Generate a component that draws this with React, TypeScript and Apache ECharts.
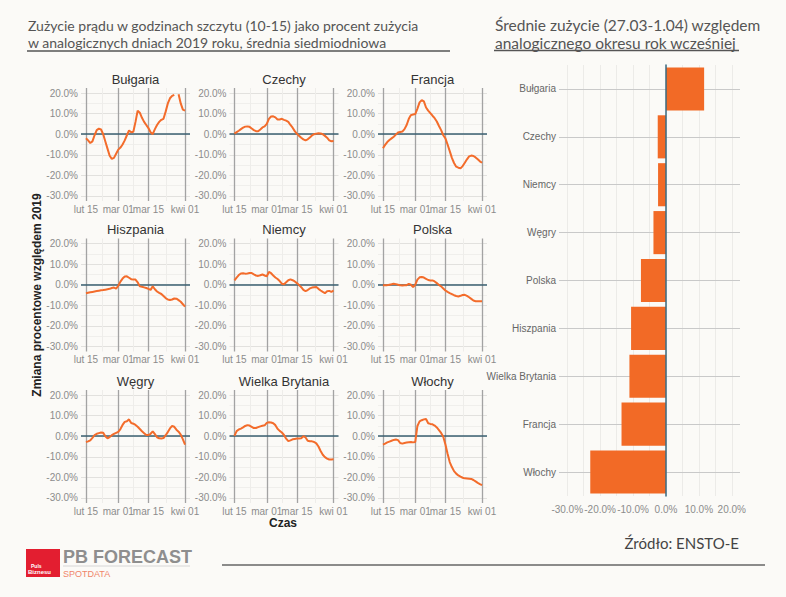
import React, { useRef, useEffect } from "react";
import * as echarts from "echarts";

// x axis: days counted from lut 15 (2020 is a leap year)
const days = Array.from({ length: 47 }, (_, i) => i);
const xTickDays = [0, 15, 29, 46];
const xTickLabels = ["lut 15", "mar 01", "mar 15", "kwi 01"];
const xMinorDays = [7.5, 22, 37.5];
const yTicks = [-30, -20, -10, 0, 10, 20];
const yMinorTicks = [-25, -15, -5, 5, 15];

// 7-day average, % vs 2019 (values above 20% fall outside the scale)
const bulgaria = [
  -2, -3, -4.3, -3.5, -0.5, 2, 2.7, 2.3, 0, -3.5, -7, -10.5, -12, -11.5, -9.5, -7.5, -6.5, -5, -3, -0.5,
  1.8, 1, 1.2, 6, 11.5, 10.5, 8, 6, 4.5, 3, 1, 0, 2.5, 4.5, 6, 7, 7.5, 11, 15, 17.5, 18.7, 19.2, null,
  19.5, 15, 12, 11.5,
];
const czechy = [
  0.3, 1, 1.7, 2.5, 3.2, 3.7, 3.8, 3.6, 2.8, 2, 1.5, 1.4, 2.3, 3.3, 3.8, 5, 7.5, 8.6, 8.7, 8.2, 7.2, 7.2,
  7.5, 7, 6.6, 6, 4.5, 3.2, 1.5, 0.2, -0.8, -1.7, -2.5, -3, -2.5, -1.6, -0.6, 0, 0.3, 0.5, 0.4, 0, -0.8,
  -1.7, -3, -3.4, -3.3,
];
const francja = [
  -6.8, -5.2, -3.8, -2.8, -2, -1.2, -0.2, 0.8, 1.1, 1.3, 2.5, 4.5, 7.5, 9.3, 9.6, 9.8, 12.5, 15.5, 16.6,
  16, 13, 11.5, 10.3, 9, 7.8, 6.2, 4, 2, -0.5, -2, -5, -8.2, -11.5, -14, -15.8, -16.3, -16.6, -15.5,
  -13.9, -12.2, -10.8, -10.4, -10.6, -11.3, -12.2, -13.2, -13.9,
];
const hiszpania = [
  -4.1, -3.9, -3.7, -3.5, -3.3, -3.1, -2.9, -2.7, -2.6, -2.4, -2.2, -2, -1.6, -1.4, -1.9, -0.5, 1.5, 3,
  4, 4.1, 3.4, 2.7, 2.6, 2.5, 1.2, -0.8, -1, -1.3, -1.6, -2, -2.5, -0.8, -2.2, -3.3, -4, -4.5, -5.5,
  -6.5, -7.2, -7.4, -7.2, -6.7, -6.8, -7.5, -8.3, -9.5, -10.7,
];
const niemcy = [
  2.1, 3.5, 4.7, 5.5, 5.6, 5.4, 5.5, 5.7, 5.7, 5, 4.5, 4.3, 4.6, 5, 4.5, 4.1, 6.2, 5.6, 4.5, 3.5, 2.8,
  1.8, 0.5, 0.2, 1.2, 2.2, 2.6, 2.2, 1.6, 0.8, -0.2, -1.2, -2.5, -3.1, -2.6, -1.8, -1.4, -1.2, -1.1, -2,
  -2.8, -3.5, -4.1, -3.2, -3, -3.5, -2.8,
];
const polska = [
  -0.3, -0.3, -0.2, 0, 0.2, 0.5, 0.3, 0, -0.3, -0.4, -0.3, -0.2, 0.4, 0, -1.2, 0, 2.5, 3.6, 3.8, 3.5,
  2.9, 2.3, 2.1, 2.1, 1.6, 0.8, -0.1, -0.8, -1.8, -2.8, -3.5, -4.1, -4.6, -5.1, -5.5, -5.7, -5.4, -5,
  -4.9, -5.4, -6.1, -6.9, -7.7, -8, -8, -8, -8,
];
const wegry = [
  -2.8, -2.5, -2, -0.8, 0.6, 1.2, 1.5, 1.8, 1.7, 0, -1, -0.4, 0.5, 1.1, 1.6, 2.1, 3.5, 5.5, 7, 7.3, 8.2,
  6.4, 6.1, 5.5, 4.6, 3.5, 2.4, 1.5, 0.6, 0.6, 1.2, 2.4, 1, -0.5, -1, -1.1, -0.9, 0.5, 2, 3.8, 5, 4.6,
  3.2, 2.2, 0.8, -1.5, -4.1,
];
const wielkaBrytania = [
  0.2, 2.5, 3.3, 3.7, 4.3, 5, 5.4, 5.2, 4.6, 4, 4, 4.4, 4.8, 5.1, 5.3, 6.5, 6.8, 6.7, 6.3, 5.4, 3.6,
  2.6, 1.8, 0.6, -1.2, -2.4, -2, -1.5, -1.3, -1.1, -1.1, -1, 0, -0.6, -2.2, -2.4, -2.5, -2.8, -3.5, -5,
  -7.2, -9, -10.2, -10.9, -11.3, -11.3, -11.2,
];
const wlochy = [
  -4.1, -3.6, -3, -2.6, -2.2, -1.8, -1.6, -1.9, -3.3, -3.6, -3.3, -3.1, -2.9, -2.8, -3, -2.8, 5, 7.2,
  7.8, 8.2, 8.4, 6.3, 6, 5.8, 5.2, 4.3, 3, 1.6, -0.3, -4, -8.5, -12.6, -15, -17, -18.2, -19.1, -19.7,
  -20.2, -20.5, -20.6, -20.7, -20.8, -21.3, -22, -22.7, -23.3, -23.8,
];

const panelNames = [
  "Bułgaria", "Czechy", "Francja",
  "Hiszpania", "Niemcy", "Polska",
  "Węgry", "Wielka Brytania", "Włochy",
];
const panelValues = [bulgaria, czechy, francja, hiszpania, niemcy, polska, wegry, wielkaBrytania, wlochy];

// average 27.03-1.04 vs the same period a year earlier, %
const barCountries = [
  "Bułgaria", "Czechy", "Niemcy", "Węgry", "Polska", "Hiszpania", "Wielka Brytania", "Francja", "Włochy",
];
const barValues = [11.6, -2.5, -2.4, -3.8, -7.6, -10.6, -11.1, -13.5, -23.0];
const barGridX = [-30, -25, -20, -15, -10, -5, 0, 5, 10, 15, 20];

const SANS = "Liberation Sans, Arial, sans-serif";
const LATO = "Lato, sans-serif";
const ORANGE = "#f36c2b";
const ZERO = "#3a5f70";

const colLeft = [81, 229.5, 378];
const rowTop = [88, 238.5, 390];
const PW = 109;
const PH = 113;

const pct = (v: number) => `${v.toFixed(1)}%`;

export default function App() {
  const chartRef = useRef<HTMLDivElement>(null);

  useEffect(() => {
    if (!chartRef.current) return;
    const chart = echarts.init(chartRef.current, null, { renderer: "svg" });

    const grids: any[] = panelNames.map((_, i) => ({
      left: colLeft[i % 3],
      top: rowTop[Math.floor(i / 3)],
      width: PW,
      height: PH,
    }));
    grids.push({ left: 559, top: 65, width: 181, height: 431 });

    const xAxes: any[] = panelNames.map((_, i) => ({
      type: "value",
      gridIndex: i,
      min: -2.3,
      max: 48.3,
      axisLine: { show: false },
      axisTick: { show: false },
      splitLine: { show: false },
      axisLabel: {
        customValues: xTickDays,
        formatter: (v: number) => xTickLabels[xTickDays.indexOf(v)] ?? "",
        color: "#8c8c8c",
        fontSize: 10,
        fontFamily: SANS,
        margin: 3,
      },
    }));
    xAxes.push({
      type: "value",
      gridIndex: 9,
      min: -32.5,
      max: 22.5,
      axisLine: { show: false },
      axisTick: { show: false },
      splitLine: { show: false },
      axisLabel: {
        customValues: yTicks,
        formatter: pct,
        color: "#8c8c8c",
        fontSize: 10,
        fontFamily: SANS,
        margin: 8,
      },
    });

    const yAxes: any[] = panelNames.map((_, i) => ({
      type: "value",
      gridIndex: i,
      min: -32.5,
      max: 22.5,
      axisLine: { show: false },
      axisTick: { show: false },
      splitLine: { show: false },
      axisLabel: {
        customValues: yTicks,
        formatter: pct,
        color: "#8c8c8c",
        fontSize: 10,
        fontFamily: SANS,
        margin: 3,
      },
    }));
    yAxes.push({
      type: "category",
      gridIndex: 9,
      data: barCountries,
      inverse: true,
      z: 20,
      axisLine: { show: true, onZero: true, lineStyle: { color: "#3a6a80", width: 1.5 } },
      axisTick: { show: false },
      splitLine: { show: false },
      axisLabel: { color: "#666", fontSize: 10, fontFamily: SANS, margin: 3 },
    });

    const panelGridLines = [
      ...yMinorTicks.map((v) => ({ yAxis: v, lineStyle: { color: "#f0efec", width: 1, type: "solid" } })),
      ...yTicks.map((v) => ({ yAxis: v, lineStyle: { color: "#e2e1de", width: 1, type: "solid" } })),
      ...xMinorDays.map((v) => ({ xAxis: v, lineStyle: { color: "#eeedea", width: 1, type: "solid" } })),
      ...xTickDays.map((v) => ({ xAxis: v, lineStyle: { color: "#a3a3a3", width: 1.3, type: "solid" } })),
      { yAxis: 0, lineStyle: { color: ZERO, width: 1.6, type: "solid" } },
    ];

    const series: any[] = panelValues.map((vals, i) => ({
      type: "line",
      xAxisIndex: i,
      yAxisIndex: i,
      data: days.map((d, k) => [d, vals[k] == null ? "-" : vals[k]]),
      showSymbol: false,
      connectNulls: false,
      lineStyle: { color: ORANGE, width: 2 },
      z: 10,
      markLine: {
        silent: true,
        symbol: "none",
        z: 1,
        animation: false,
        label: { show: false },
        data: panelGridLines,
      },
    }));
    series.push({
      type: "bar",
      xAxisIndex: 9,
      yAxisIndex: 9,
      data: barValues,
      barWidth: "90%",
      itemStyle: { color: "#f26a26" },
      z: 10,
      markLine: {
        silent: true,
        symbol: "none",
        z: 1,
        animation: false,
        label: { show: false },
        data: [
          ...barGridX.map((v) => ({ xAxis: v, lineStyle: { color: "#ecebe8", width: 1, type: "solid" } })),
          ...barCountries.map((c) => ({ yAxis: c, lineStyle: { color: "#c9c9c9", width: 1.2, type: "solid" } })),
        ],
      },
    });

    const panelTitles = panelNames.map((name, i) => ({
      type: "text",
      x: colLeft[i % 3] + PW / 2,
      y: rowTop[Math.floor(i / 3)] - 9,
      style: {
        text: name,
        fill: "#333",
        font: `13px ${SANS}`,
        align: "center",
        verticalAlign: "middle",
      },
    }));

    const graphic: any[] = [
      {
        type: "text",
        x: 28,
        y: 25,
        style: {
          text: "Zużycie prądu w godzinach szczytu (10-15) jako procent zużycia",
          fill: "#555",
          font: `14px ${LATO}`,
          verticalAlign: "middle",
        },
      },
      {
        type: "text",
        x: 28,
        y: 42.5,
        style: {
          text: "w analogicznych dniach 2019 roku, średnia siedmiodniowa",
          fill: "#555",
          font: `14px ${LATO}`,
          verticalAlign: "middle",
        },
      },
      { type: "line", shape: { x1: 27, y1: 51, x2: 450, y2: 51 }, style: { stroke: "#555", lineWidth: 1.5 } },
      {
        type: "text",
        x: 495,
        y: 25,
        style: {
          text: "Średnie zużycie (27.03-1.04) względem",
          fill: "#555",
          font: `15.5px ${LATO}`,
          verticalAlign: "middle",
        },
      },
      {
        type: "text",
        x: 495,
        y: 42.5,
        style: {
          text: "analogicznego okresu rok wcześniej",
          fill: "#555",
          font: `15.5px ${LATO}`,
          verticalAlign: "middle",
        },
      },
      { type: "line", shape: { x1: 494, y1: 50.5, x2: 739, y2: 50.5 }, style: { stroke: "#555", lineWidth: 1.5 } },
      ...panelTitles,
      {
        type: "text",
        x: 37,
        y: 295,
        rotation: Math.PI / 2,
        style: {
          text: "Zmiana procentowe względem 2019",
          fill: "#222",
          font: `bold 12px ${SANS}`,
          align: "center",
          verticalAlign: "middle",
        },
      },
      {
        type: "text",
        x: 283,
        y: 523,
        style: { text: "Czas", fill: "#222", font: `bold 12px ${SANS}`, align: "center", verticalAlign: "middle" },
      },
      {
        type: "text",
        x: 739,
        y: 543,
        style: {
          text: "Źródło: ENSTO-E",
          fill: "#444",
          font: `15px ${LATO}`,
          align: "right",
          verticalAlign: "middle",
        },
      },
      { type: "line", shape: { x1: 222, y1: 565, x2: 765, y2: 565 }, style: { stroke: "#666", lineWidth: 1.5 } },
      // logo
      { type: "rect", shape: { x: 26, y: 549, width: 34, height: 28 }, style: { fill: "#e31e30" } },
      {
        type: "text",
        x: 31,
        y: 566,
        style: { text: "Puls", fill: "#fff", font: `bold 5px ${SANS}`, verticalAlign: "middle" },
      },
      {
        type: "text",
        x: 28,
        y: 572,
        style: { text: "Biznesu", fill: "#fff", font: `bold 6px ${SANS}`, verticalAlign: "middle" },
      },
      {
        type: "text",
        x: 63,
        y: 557,
        style: { text: "PB FORECAST", fill: "#8e8e8e", font: `bold 18px ${SANS}`, verticalAlign: "middle" },
      },
      { type: "line", shape: { x1: 63, y1: 566, x2: 190, y2: 566 }, style: { stroke: "#d6d6d6", lineWidth: 1 } },
      {
        type: "text",
        x: 63,
        y: 574,
        style: { text: "SPOTDATA", fill: "#f0856a", font: `9px ${SANS}`, verticalAlign: "middle" },
      },
    ];

    chart.setOption({
      animation: false,
      backgroundColor: "#fbfaf7",
      grid: grids,
      xAxis: xAxes,
      yAxis: yAxes,
      series,
      graphic,
    });

    return () => chart.dispose();
  }, []);

  return (
    <div
      ref={chartRef}
      style={{ position: "fixed", left: 0, top: 0, width: 786, height: 597 }}
    />
  );
}
